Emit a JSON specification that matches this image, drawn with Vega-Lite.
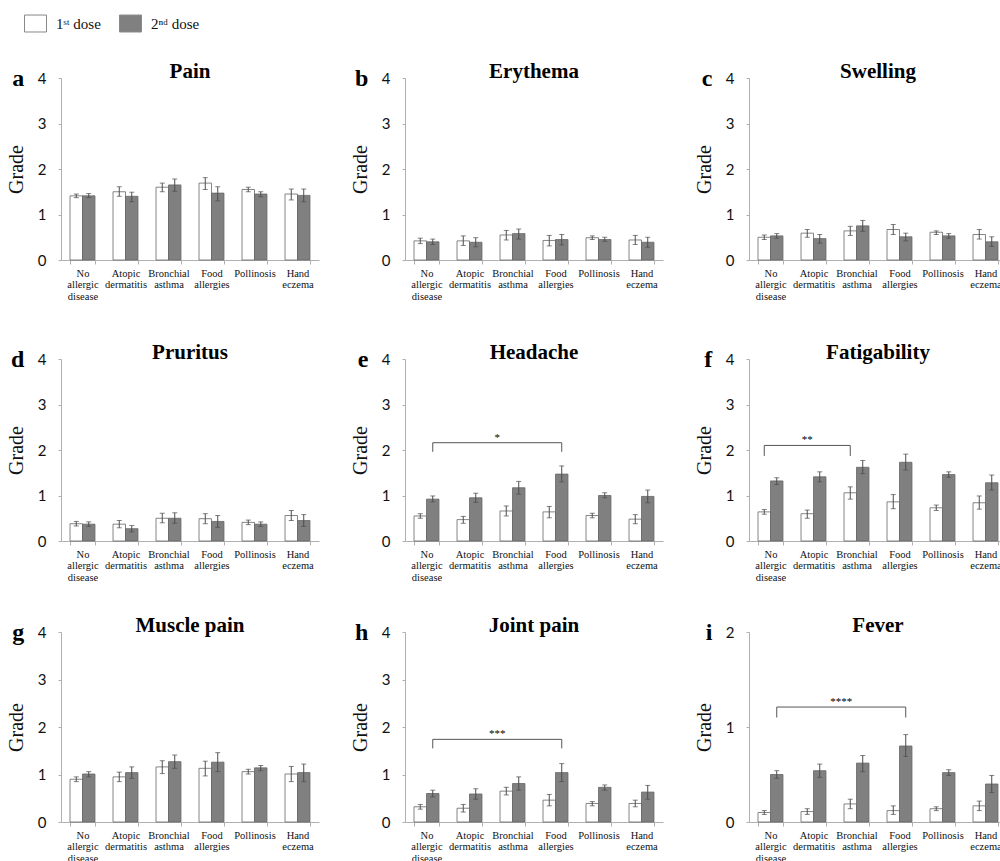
{
"$schema": "https://vega.github.io/schema/vega-lite/v6.json",
"padding": {"top": 12, "left": 6, "right": 4, "bottom": 4},
"autosize": {"type": "pad"},
"background": "white",
"data": {"name": "bars"},
"datasets": {"bars": [
{"s":"Pain","g":"No allergic disease","d":"1ˢᵗ dose","m":1.41,"lo":1.37,"hi":1.45},
{"s":"Pain","g":"No allergic disease","d":"2ⁿᵈ dose","m":1.41,"lo":1.37,"hi":1.46},
{"s":"Pain","g":"Atopic dermatitis","d":"1ˢᵗ dose","m":1.50,"lo":1.40,"hi":1.61},
{"s":"Pain","g":"Atopic dermatitis","d":"2ⁿᵈ dose","m":1.40,"lo":1.28,"hi":1.49},
{"s":"Pain","g":"Bronchial asthma","d":"1ˢᵗ dose","m":1.60,"lo":1.50,"hi":1.69},
{"s":"Pain","g":"Bronchial asthma","d":"2ⁿᵈ dose","m":1.65,"lo":1.51,"hi":1.78},
{"s":"Pain","g":"Food allergies","d":"1ˢᵗ dose","m":1.69,"lo":1.55,"hi":1.81},
{"s":"Pain","g":"Food allergies","d":"2ⁿᵈ dose","m":1.47,"lo":1.30,"hi":1.61},
{"s":"Pain","g":"Pollinosis","d":"1ˢᵗ dose","m":1.55,"lo":1.50,"hi":1.60},
{"s":"Pain","g":"Pollinosis","d":"2ⁿᵈ dose","m":1.45,"lo":1.39,"hi":1.50},
{"s":"Pain","g":"Hand eczema","d":"1ˢᵗ dose","m":1.45,"lo":1.32,"hi":1.56},
{"s":"Pain","g":"Hand eczema","d":"2ⁿᵈ dose","m":1.42,"lo":1.28,"hi":1.56},
{"s":"Erythema","g":"No allergic disease","d":"1ˢᵗ dose","m":0.42,"lo":0.36,"hi":0.48},
{"s":"Erythema","g":"No allergic disease","d":"2ⁿᵈ dose","m":0.40,"lo":0.34,"hi":0.46},
{"s":"Erythema","g":"Atopic dermatitis","d":"1ˢᵗ dose","m":0.42,"lo":0.32,"hi":0.53},
{"s":"Erythema","g":"Atopic dermatitis","d":"2ⁿᵈ dose","m":0.39,"lo":0.29,"hi":0.49},
{"s":"Erythema","g":"Bronchial asthma","d":"1ˢᵗ dose","m":0.55,"lo":0.44,"hi":0.65},
{"s":"Erythema","g":"Bronchial asthma","d":"2ⁿᵈ dose","m":0.58,"lo":0.46,"hi":0.68},
{"s":"Erythema","g":"Food allergies","d":"1ˢᵗ dose","m":0.43,"lo":0.31,"hi":0.54},
{"s":"Erythema","g":"Food allergies","d":"2ⁿᵈ dose","m":0.45,"lo":0.33,"hi":0.56},
{"s":"Erythema","g":"Pollinosis","d":"1ˢᵗ dose","m":0.49,"lo":0.45,"hi":0.53},
{"s":"Erythema","g":"Pollinosis","d":"2ⁿᵈ dose","m":0.45,"lo":0.41,"hi":0.50},
{"s":"Erythema","g":"Hand eczema","d":"1ˢᵗ dose","m":0.44,"lo":0.34,"hi":0.54},
{"s":"Erythema","g":"Hand eczema","d":"2ⁿᵈ dose","m":0.39,"lo":0.28,"hi":0.50},
{"s":"Swelling","g":"No allergic disease","d":"1ˢᵗ dose","m":0.50,"lo":0.45,"hi":0.55},
{"s":"Swelling","g":"No allergic disease","d":"2ⁿᵈ dose","m":0.53,"lo":0.48,"hi":0.58},
{"s":"Swelling","g":"Atopic dermatitis","d":"1ˢᵗ dose","m":0.59,"lo":0.50,"hi":0.67},
{"s":"Swelling","g":"Atopic dermatitis","d":"2ⁿᵈ dose","m":0.47,"lo":0.37,"hi":0.56},
{"s":"Swelling","g":"Bronchial asthma","d":"1ˢᵗ dose","m":0.64,"lo":0.54,"hi":0.74},
{"s":"Swelling","g":"Bronchial asthma","d":"2ⁿᵈ dose","m":0.75,"lo":0.63,"hi":0.87},
{"s":"Swelling","g":"Food allergies","d":"1ˢᵗ dose","m":0.67,"lo":0.56,"hi":0.78},
{"s":"Swelling","g":"Food allergies","d":"2ⁿᵈ dose","m":0.51,"lo":0.42,"hi":0.59},
{"s":"Swelling","g":"Pollinosis","d":"1ˢᵗ dose","m":0.61,"lo":0.56,"hi":0.64},
{"s":"Swelling","g":"Pollinosis","d":"2ⁿᵈ dose","m":0.53,"lo":0.48,"hi":0.58},
{"s":"Swelling","g":"Hand eczema","d":"1ˢᵗ dose","m":0.56,"lo":0.46,"hi":0.67},
{"s":"Swelling","g":"Hand eczema","d":"2ⁿᵈ dose","m":0.40,"lo":0.30,"hi":0.51},
{"s":"Pruritus","g":"No allergic disease","d":"1ˢᵗ dose","m":0.38,"lo":0.33,"hi":0.43},
{"s":"Pruritus","g":"No allergic disease","d":"2ⁿᵈ dose","m":0.37,"lo":0.32,"hi":0.42},
{"s":"Pruritus","g":"Atopic dermatitis","d":"1ˢᵗ dose","m":0.37,"lo":0.29,"hi":0.45},
{"s":"Pruritus","g":"Atopic dermatitis","d":"2ⁿᵈ dose","m":0.27,"lo":0.20,"hi":0.34},
{"s":"Pruritus","g":"Bronchial asthma","d":"1ˢᵗ dose","m":0.50,"lo":0.40,"hi":0.61},
{"s":"Pruritus","g":"Bronchial asthma","d":"2ⁿᵈ dose","m":0.50,"lo":0.39,"hi":0.62},
{"s":"Pruritus","g":"Food allergies","d":"1ˢᵗ dose","m":0.49,"lo":0.38,"hi":0.60},
{"s":"Pruritus","g":"Food allergies","d":"2ⁿᵈ dose","m":0.43,"lo":0.30,"hi":0.56},
{"s":"Pruritus","g":"Pollinosis","d":"1ˢᵗ dose","m":0.41,"lo":0.36,"hi":0.46},
{"s":"Pruritus","g":"Pollinosis","d":"2ⁿᵈ dose","m":0.37,"lo":0.32,"hi":0.42},
{"s":"Pruritus","g":"Hand eczema","d":"1ˢᵗ dose","m":0.56,"lo":0.45,"hi":0.67},
{"s":"Pruritus","g":"Hand eczema","d":"2ⁿᵈ dose","m":0.45,"lo":0.32,"hi":0.58},
{"s":"Headache","g":"No allergic disease","d":"1ˢᵗ dose","m":0.55,"lo":0.50,"hi":0.60},
{"s":"Headache","g":"No allergic disease","d":"2ⁿᵈ dose","m":0.92,"lo":0.86,"hi":0.99},
{"s":"Headache","g":"Atopic dermatitis","d":"1ˢᵗ dose","m":0.47,"lo":0.39,"hi":0.54},
{"s":"Headache","g":"Atopic dermatitis","d":"2ⁿᵈ dose","m":0.95,"lo":0.85,"hi":1.05},
{"s":"Headache","g":"Bronchial asthma","d":"1ˢᵗ dose","m":0.66,"lo":0.55,"hi":0.77},
{"s":"Headache","g":"Bronchial asthma","d":"2ⁿᵈ dose","m":1.17,"lo":1.03,"hi":1.31},
{"s":"Headache","g":"Food allergies","d":"1ˢᵗ dose","m":0.64,"lo":0.51,"hi":0.76},
{"s":"Headache","g":"Food allergies","d":"2ⁿᵈ dose","m":1.47,"lo":1.30,"hi":1.65},
{"s":"Headache","g":"Pollinosis","d":"1ˢᵗ dose","m":0.56,"lo":0.51,"hi":0.61},
{"s":"Headache","g":"Pollinosis","d":"2ⁿᵈ dose","m":1.00,"lo":0.95,"hi":1.06},
{"s":"Headache","g":"Hand eczema","d":"1ˢᵗ dose","m":0.48,"lo":0.38,"hi":0.58},
{"s":"Headache","g":"Hand eczema","d":"2ⁿᵈ dose","m":0.98,"lo":0.84,"hi":1.12},
{"s":"Fatigability","g":"No allergic disease","d":"1ˢᵗ dose","m":0.64,"lo":0.59,"hi":0.69},
{"s":"Fatigability","g":"No allergic disease","d":"2ⁿᵈ dose","m":1.32,"lo":1.24,"hi":1.39},
{"s":"Fatigability","g":"Atopic dermatitis","d":"1ˢᵗ dose","m":0.60,"lo":0.50,"hi":0.68},
{"s":"Fatigability","g":"Atopic dermatitis","d":"2ⁿᵈ dose","m":1.41,"lo":1.30,"hi":1.52},
{"s":"Fatigability","g":"Bronchial asthma","d":"1ˢᵗ dose","m":1.06,"lo":0.92,"hi":1.19},
{"s":"Fatigability","g":"Bronchial asthma","d":"2ⁿᵈ dose","m":1.62,"lo":1.48,"hi":1.77},
{"s":"Fatigability","g":"Food allergies","d":"1ˢᵗ dose","m":0.86,"lo":0.71,"hi":1.02},
{"s":"Fatigability","g":"Food allergies","d":"2ⁿᵈ dose","m":1.73,"lo":1.56,"hi":1.91},
{"s":"Fatigability","g":"Pollinosis","d":"1ˢᵗ dose","m":0.73,"lo":0.67,"hi":0.79},
{"s":"Fatigability","g":"Pollinosis","d":"2ⁿᵈ dose","m":1.46,"lo":1.40,"hi":1.52},
{"s":"Fatigability","g":"Hand eczema","d":"1ˢᵗ dose","m":0.84,"lo":0.70,"hi":0.99},
{"s":"Fatigability","g":"Hand eczema","d":"2ⁿᵈ dose","m":1.28,"lo":1.12,"hi":1.45},
{"s":"Muscle pain","g":"No allergic disease","d":"1ˢᵗ dose","m":0.90,"lo":0.85,"hi":0.95},
{"s":"Muscle pain","g":"No allergic disease","d":"2ⁿᵈ dose","m":1.01,"lo":0.95,"hi":1.06},
{"s":"Muscle pain","g":"Atopic dermatitis","d":"1ˢᵗ dose","m":0.95,"lo":0.85,"hi":1.05},
{"s":"Muscle pain","g":"Atopic dermatitis","d":"2ⁿᵈ dose","m":1.04,"lo":0.92,"hi":1.16},
{"s":"Muscle pain","g":"Bronchial asthma","d":"1ˢᵗ dose","m":1.16,"lo":1.02,"hi":1.29},
{"s":"Muscle pain","g":"Bronchial asthma","d":"2ⁿᵈ dose","m":1.27,"lo":1.13,"hi":1.41},
{"s":"Muscle pain","g":"Food allergies","d":"1ˢᵗ dose","m":1.13,"lo":0.97,"hi":1.28},
{"s":"Muscle pain","g":"Food allergies","d":"2ⁿᵈ dose","m":1.26,"lo":1.06,"hi":1.46},
{"s":"Muscle pain","g":"Pollinosis","d":"1ˢᵗ dose","m":1.06,"lo":1.01,"hi":1.11},
{"s":"Muscle pain","g":"Pollinosis","d":"2ⁿᵈ dose","m":1.14,"lo":1.08,"hi":1.19},
{"s":"Muscle pain","g":"Hand eczema","d":"1ˢᵗ dose","m":1.01,"lo":0.85,"hi":1.17},
{"s":"Muscle pain","g":"Hand eczema","d":"2ⁿᵈ dose","m":1.04,"lo":0.85,"hi":1.22},
{"s":"Joint pain","g":"No allergic disease","d":"1ˢᵗ dose","m":0.32,"lo":0.27,"hi":0.37},
{"s":"Joint pain","g":"No allergic disease","d":"2ⁿᵈ dose","m":0.60,"lo":0.53,"hi":0.67},
{"s":"Joint pain","g":"Atopic dermatitis","d":"1ˢᵗ dose","m":0.29,"lo":0.21,"hi":0.37},
{"s":"Joint pain","g":"Atopic dermatitis","d":"2ⁿᵈ dose","m":0.59,"lo":0.48,"hi":0.70},
{"s":"Joint pain","g":"Bronchial asthma","d":"1ˢᵗ dose","m":0.65,"lo":0.57,"hi":0.73},
{"s":"Joint pain","g":"Bronchial asthma","d":"2ⁿᵈ dose","m":0.81,"lo":0.67,"hi":0.95},
{"s":"Joint pain","g":"Food allergies","d":"1ˢᵗ dose","m":0.46,"lo":0.34,"hi":0.58},
{"s":"Joint pain","g":"Food allergies","d":"2ⁿᵈ dose","m":1.04,"lo":0.85,"hi":1.23},
{"s":"Joint pain","g":"Pollinosis","d":"1ˢᵗ dose","m":0.39,"lo":0.34,"hi":0.43},
{"s":"Joint pain","g":"Pollinosis","d":"2ⁿᵈ dose","m":0.73,"lo":0.67,"hi":0.78},
{"s":"Joint pain","g":"Hand eczema","d":"1ˢᵗ dose","m":0.39,"lo":0.32,"hi":0.46},
{"s":"Joint pain","g":"Hand eczema","d":"2ⁿᵈ dose","m":0.63,"lo":0.48,"hi":0.77},
{"s":"Fever","g":"No allergic disease","d":"1ˢᵗ dose","m":0.10,"lo":0.08,"hi":0.12},
{"s":"Fever","g":"No allergic disease","d":"2ⁿᵈ dose","m":0.50,"lo":0.46,"hi":0.54},
{"s":"Fever","g":"Atopic dermatitis","d":"1ˢᵗ dose","m":0.11,"lo":0.08,"hi":0.14},
{"s":"Fever","g":"Atopic dermatitis","d":"2ⁿᵈ dose","m":0.54,"lo":0.47,"hi":0.61},
{"s":"Fever","g":"Bronchial asthma","d":"1ˢᵗ dose","m":0.19,"lo":0.14,"hi":0.24},
{"s":"Fever","g":"Bronchial asthma","d":"2ⁿᵈ dose","m":0.62,"lo":0.53,"hi":0.70},
{"s":"Fever","g":"Food allergies","d":"1ˢᵗ dose","m":0.12,"lo":0.08,"hi":0.17},
{"s":"Fever","g":"Food allergies","d":"2ⁿᵈ dose","m":0.80,"lo":0.69,"hi":0.92},
{"s":"Fever","g":"Pollinosis","d":"1ˢᵗ dose","m":0.14,"lo":0.12,"hi":0.16},
{"s":"Fever","g":"Pollinosis","d":"2ⁿᵈ dose","m":0.52,"lo":0.49,"hi":0.55},
{"s":"Fever","g":"Hand eczema","d":"1ˢᵗ dose","m":0.17,"lo":0.12,"hi":0.22},
{"s":"Fever","g":"Hand eczema","d":"2ⁿᵈ dose","m":0.40,"lo":0.31,"hi":0.49}
]},
"spacing": 40,
"vconcat": [
{"hconcat": [
 {"title": {"text": "a", "orient": "left", "anchor": "end", "angle": 0, "align": "left", "baseline": "top", "offset": 0, "dx": 18, "dy": 6, "fontSize": 24},
  "vconcat": [{"title": "Pain", "width": 258, "height": 182, "layer": [
   {"transform": [{"filter": "datum.s === 'Pain'"}],
    "encoding": {"x": {"field": "g", "type": "nominal", "title": null, "scale": {"domain": ["No allergic disease","Atopic dermatitis","Bronchial asthma","Food allergies","Pollinosis","Hand eczema"], "paddingInner": 0.42, "paddingOuter": 0.21}, "axis": {"labelExpr": "datum.value ? split(datum.value, ' ') : ''"}},
                 "xOffset": {"field": "d", "type": "nominal", "scale": {"domain": ["1ˢᵗ dose","2ⁿᵈ dose"], "paddingInner": 0}}},
    "layer": [
     {"mark": {"type": "bar", "stroke": "#666666", "strokeWidth": 0.8}, "encoding": {"y": {"field": "m", "type": "quantitative", "title": "Grade", "scale": {"domain": [0, 4]}, "axis": {"values": [0,1,2,3,4], "format": "d"}}, "color": {"field": "d", "type": "nominal", "title": null, "scale": {"domain": ["1ˢᵗ dose","2ⁿᵈ dose"], "range": ["#ffffff","#808080"]}}}},
     {"mark": {"type": "rule", "color": "#4d4d4d"}, "encoding": {"y": {"field": "lo", "type": "quantitative", "title": "Grade"}, "y2": {"field": "hi"}}},
     {"mark": {"type": "tick", "orient": "horizontal", "color": "#4d4d4d", "size": 5, "thickness": 1}, "encoding": {"y": {"field": "hi", "type": "quantitative", "title": "Grade"}}},
     {"mark": {"type": "tick", "orient": "horizontal", "color": "#4d4d4d", "size": 5, "thickness": 1}, "encoding": {"y": {"field": "lo", "type": "quantitative", "title": "Grade"}}}
    ]}
  ]}]},
 {"title": {"text": "b", "orient": "left", "anchor": "end", "angle": 0, "align": "left", "baseline": "top", "offset": 0, "dx": 18, "dy": 6, "fontSize": 24},
  "vconcat": [{"title": "Erythema", "width": 258, "height": 182, "layer": [
   {"transform": [{"filter": "datum.s === 'Erythema'"}],
    "encoding": {"x": {"field": "g", "type": "nominal", "title": null, "scale": {"domain": ["No allergic disease","Atopic dermatitis","Bronchial asthma","Food allergies","Pollinosis","Hand eczema"], "paddingInner": 0.42, "paddingOuter": 0.21}, "axis": {"labelExpr": "datum.value ? split(datum.value, ' ') : ''"}},
                 "xOffset": {"field": "d", "type": "nominal", "scale": {"domain": ["1ˢᵗ dose","2ⁿᵈ dose"], "paddingInner": 0}}},
    "layer": [
     {"mark": {"type": "bar", "stroke": "#666666", "strokeWidth": 0.8}, "encoding": {"y": {"field": "m", "type": "quantitative", "title": "Grade", "scale": {"domain": [0, 4]}, "axis": {"values": [0,1,2,3,4], "format": "d"}}, "color": {"field": "d", "type": "nominal", "title": null, "scale": {"domain": ["1ˢᵗ dose","2ⁿᵈ dose"], "range": ["#ffffff","#808080"]}}}},
     {"mark": {"type": "rule", "color": "#4d4d4d"}, "encoding": {"y": {"field": "lo", "type": "quantitative", "title": "Grade"}, "y2": {"field": "hi"}}},
     {"mark": {"type": "tick", "orient": "horizontal", "color": "#4d4d4d", "size": 5, "thickness": 1}, "encoding": {"y": {"field": "hi", "type": "quantitative", "title": "Grade"}}},
     {"mark": {"type": "tick", "orient": "horizontal", "color": "#4d4d4d", "size": 5, "thickness": 1}, "encoding": {"y": {"field": "lo", "type": "quantitative", "title": "Grade"}}}
    ]}
  ]}]},
 {"title": {"text": "c", "orient": "left", "anchor": "end", "angle": 0, "align": "left", "baseline": "top", "offset": 0, "dx": 18, "dy": 6, "fontSize": 24},
  "vconcat": [{"title": "Swelling", "width": 258, "height": 182, "layer": [
   {"transform": [{"filter": "datum.s === 'Swelling'"}],
    "encoding": {"x": {"field": "g", "type": "nominal", "title": null, "scale": {"domain": ["No allergic disease","Atopic dermatitis","Bronchial asthma","Food allergies","Pollinosis","Hand eczema"], "paddingInner": 0.42, "paddingOuter": 0.21}, "axis": {"labelExpr": "datum.value ? split(datum.value, ' ') : ''"}},
                 "xOffset": {"field": "d", "type": "nominal", "scale": {"domain": ["1ˢᵗ dose","2ⁿᵈ dose"], "paddingInner": 0}}},
    "layer": [
     {"mark": {"type": "bar", "stroke": "#666666", "strokeWidth": 0.8}, "encoding": {"y": {"field": "m", "type": "quantitative", "title": "Grade", "scale": {"domain": [0, 4]}, "axis": {"values": [0,1,2,3,4], "format": "d"}}, "color": {"field": "d", "type": "nominal", "title": null, "scale": {"domain": ["1ˢᵗ dose","2ⁿᵈ dose"], "range": ["#ffffff","#808080"]}}}},
     {"mark": {"type": "rule", "color": "#4d4d4d"}, "encoding": {"y": {"field": "lo", "type": "quantitative", "title": "Grade"}, "y2": {"field": "hi"}}},
     {"mark": {"type": "tick", "orient": "horizontal", "color": "#4d4d4d", "size": 5, "thickness": 1}, "encoding": {"y": {"field": "hi", "type": "quantitative", "title": "Grade"}}},
     {"mark": {"type": "tick", "orient": "horizontal", "color": "#4d4d4d", "size": 5, "thickness": 1}, "encoding": {"y": {"field": "lo", "type": "quantitative", "title": "Grade"}}}
    ]}
  ]}]}
 ], "spacing": 31},
{"spacing": 32, "vconcat": [
{"hconcat": [
 {"title": {"text": "d", "orient": "left", "anchor": "end", "angle": 0, "align": "left", "baseline": "top", "offset": 0, "dx": 18, "dy": 6, "fontSize": 24},
  "vconcat": [{"title": "Pruritus", "width": 258, "height": 182, "layer": [
   {"transform": [{"filter": "datum.s === 'Pruritus'"}],
    "encoding": {"x": {"field": "g", "type": "nominal", "title": null, "scale": {"domain": ["No allergic disease","Atopic dermatitis","Bronchial asthma","Food allergies","Pollinosis","Hand eczema"], "paddingInner": 0.42, "paddingOuter": 0.21}, "axis": {"labelExpr": "datum.value ? split(datum.value, ' ') : ''"}},
                 "xOffset": {"field": "d", "type": "nominal", "scale": {"domain": ["1ˢᵗ dose","2ⁿᵈ dose"], "paddingInner": 0}}},
    "layer": [
     {"mark": {"type": "bar", "stroke": "#666666", "strokeWidth": 0.8}, "encoding": {"y": {"field": "m", "type": "quantitative", "title": "Grade", "scale": {"domain": [0, 4]}, "axis": {"values": [0,1,2,3,4], "format": "d"}}, "color": {"field": "d", "type": "nominal", "title": null, "scale": {"domain": ["1ˢᵗ dose","2ⁿᵈ dose"], "range": ["#ffffff","#808080"]}}}},
     {"mark": {"type": "rule", "color": "#4d4d4d"}, "encoding": {"y": {"field": "lo", "type": "quantitative", "title": "Grade"}, "y2": {"field": "hi"}}},
     {"mark": {"type": "tick", "orient": "horizontal", "color": "#4d4d4d", "size": 5, "thickness": 1}, "encoding": {"y": {"field": "hi", "type": "quantitative", "title": "Grade"}}},
     {"mark": {"type": "tick", "orient": "horizontal", "color": "#4d4d4d", "size": 5, "thickness": 1}, "encoding": {"y": {"field": "lo", "type": "quantitative", "title": "Grade"}}}
    ]}
  ]}]},
 {"title": {"text": "e", "orient": "left", "anchor": "end", "angle": 0, "align": "left", "baseline": "top", "offset": 0, "dx": 18, "dy": 6, "fontSize": 24},
  "vconcat": [{"title": "Headache", "width": 258, "height": 182, "layer": [
   {"transform": [{"filter": "datum.s === 'Headache'"}],
    "encoding": {"x": {"field": "g", "type": "nominal", "title": null, "scale": {"domain": ["No allergic disease","Atopic dermatitis","Bronchial asthma","Food allergies","Pollinosis","Hand eczema"], "paddingInner": 0.42, "paddingOuter": 0.21}, "axis": {"labelExpr": "datum.value ? split(datum.value, ' ') : ''"}},
                 "xOffset": {"field": "d", "type": "nominal", "scale": {"domain": ["1ˢᵗ dose","2ⁿᵈ dose"], "paddingInner": 0}}},
    "layer": [
     {"mark": {"type": "bar", "stroke": "#666666", "strokeWidth": 0.8}, "encoding": {"y": {"field": "m", "type": "quantitative", "title": "Grade", "scale": {"domain": [0, 4]}, "axis": {"values": [0,1,2,3,4], "format": "d"}}, "color": {"field": "d", "type": "nominal", "title": null, "scale": {"domain": ["1ˢᵗ dose","2ⁿᵈ dose"], "range": ["#ffffff","#808080"]}}}},
     {"mark": {"type": "rule", "color": "#4d4d4d"}, "encoding": {"y": {"field": "lo", "type": "quantitative", "title": "Grade"}, "y2": {"field": "hi"}}},
     {"mark": {"type": "tick", "orient": "horizontal", "color": "#4d4d4d", "size": 5, "thickness": 1}, "encoding": {"y": {"field": "hi", "type": "quantitative", "title": "Grade"}}},
     {"mark": {"type": "tick", "orient": "horizontal", "color": "#4d4d4d", "size": 5, "thickness": 1}, "encoding": {"y": {"field": "lo", "type": "quantitative", "title": "Grade"}}}
    ]},
   {"data": {"values": [{"g":"No allergic disease","y":1.96,"o":1},{"g":"No allergic disease","y":2.16,"o":2},{"g":"Food allergies","y":2.16,"o":3},{"g":"Food allergies","y":1.96,"o":4}]},
    "mark": {"type": "line", "color": "#555555", "strokeWidth": 1},
    "encoding": {"x": {"field": "g", "type": "nominal", "title": null, "bandPosition": 0.75}, "y": {"field": "y", "type": "quantitative", "title": "Grade"}, "order": {"field": "o", "type": "quantitative"}}},
   {"data": {"values": [{"g":"Atopic dermatitis","y":2.16,"t":"*"}]},
    "mark": {"type": "text", "font": "Liberation Serif", "fontSize": 11, "baseline": "bottom", "color": "#000000"},
    "encoding": {"x": {"field": "g", "type": "nominal", "title": null, "bandPosition": 1.61}, "y": {"field": "y", "type": "quantitative", "title": "Grade"}, "text": {"field": "t"}}}
  ]}]},
 {"title": {"text": "f", "orient": "left", "anchor": "end", "angle": 0, "align": "left", "baseline": "top", "offset": 0, "dx": 18, "dy": 6, "fontSize": 24},
  "vconcat": [{"title": "Fatigability", "width": 258, "height": 182, "layer": [
   {"transform": [{"filter": "datum.s === 'Fatigability'"}],
    "encoding": {"x": {"field": "g", "type": "nominal", "title": null, "scale": {"domain": ["No allergic disease","Atopic dermatitis","Bronchial asthma","Food allergies","Pollinosis","Hand eczema"], "paddingInner": 0.42, "paddingOuter": 0.21}, "axis": {"labelExpr": "datum.value ? split(datum.value, ' ') : ''"}},
                 "xOffset": {"field": "d", "type": "nominal", "scale": {"domain": ["1ˢᵗ dose","2ⁿᵈ dose"], "paddingInner": 0}}},
    "layer": [
     {"mark": {"type": "bar", "stroke": "#666666", "strokeWidth": 0.8}, "encoding": {"y": {"field": "m", "type": "quantitative", "title": "Grade", "scale": {"domain": [0, 4]}, "axis": {"values": [0,1,2,3,4], "format": "d"}}, "color": {"field": "d", "type": "nominal", "title": null, "scale": {"domain": ["1ˢᵗ dose","2ⁿᵈ dose"], "range": ["#ffffff","#808080"]}}}},
     {"mark": {"type": "rule", "color": "#4d4d4d"}, "encoding": {"y": {"field": "lo", "type": "quantitative", "title": "Grade"}, "y2": {"field": "hi"}}},
     {"mark": {"type": "tick", "orient": "horizontal", "color": "#4d4d4d", "size": 5, "thickness": 1}, "encoding": {"y": {"field": "hi", "type": "quantitative", "title": "Grade"}}},
     {"mark": {"type": "tick", "orient": "horizontal", "color": "#4d4d4d", "size": 5, "thickness": 1}, "encoding": {"y": {"field": "lo", "type": "quantitative", "title": "Grade"}}}
    ]},
   {"data": {"values": [{"g":"No allergic disease","y":1.87,"o":1},{"g":"No allergic disease","y":2.10,"o":2},{"g":"Bronchial asthma","y":2.10,"o":3},{"g":"Bronchial asthma","y":1.87,"o":4}]},
    "mark": {"type": "line", "color": "#555555", "strokeWidth": 1},
    "encoding": {"x": {"field": "g", "type": "nominal", "title": null, "bandPosition": 0.25}, "y": {"field": "y", "type": "quantitative", "title": "Grade"}, "order": {"field": "o", "type": "quantitative"}}},
   {"data": {"values": [{"g":"Atopic dermatitis","y":2.10,"t":"**"}]},
    "mark": {"type": "text", "font": "Liberation Serif", "fontSize": 11, "baseline": "bottom", "color": "#000000"},
    "encoding": {"x": {"field": "g", "type": "nominal", "title": null, "bandPosition": 0.25}, "y": {"field": "y", "type": "quantitative", "title": "Grade"}, "text": {"field": "t"}}}
  ]}]}
 ], "spacing": 31},
{"hconcat": [
 {"title": {"text": "g", "orient": "left", "anchor": "end", "angle": 0, "align": "left", "baseline": "top", "offset": 0, "dx": 18, "dy": 6, "fontSize": 24},
  "vconcat": [{"title": "Muscle pain", "width": 258, "height": 190, "layer": [
   {"transform": [{"filter": "datum.s === 'Muscle pain'"}],
    "encoding": {"x": {"field": "g", "type": "nominal", "title": null, "scale": {"domain": ["No allergic disease","Atopic dermatitis","Bronchial asthma","Food allergies","Pollinosis","Hand eczema"], "paddingInner": 0.42, "paddingOuter": 0.21}, "axis": {"labelExpr": "datum.value ? split(datum.value, ' ') : ''"}},
                 "xOffset": {"field": "d", "type": "nominal", "scale": {"domain": ["1ˢᵗ dose","2ⁿᵈ dose"], "paddingInner": 0}}},
    "layer": [
     {"mark": {"type": "bar", "stroke": "#666666", "strokeWidth": 0.8}, "encoding": {"y": {"field": "m", "type": "quantitative", "title": "Grade", "scale": {"domain": [0, 4]}, "axis": {"values": [0,1,2,3,4], "format": "d"}}, "color": {"field": "d", "type": "nominal", "title": null, "scale": {"domain": ["1ˢᵗ dose","2ⁿᵈ dose"], "range": ["#ffffff","#808080"]}}}},
     {"mark": {"type": "rule", "color": "#4d4d4d"}, "encoding": {"y": {"field": "lo", "type": "quantitative", "title": "Grade"}, "y2": {"field": "hi"}}},
     {"mark": {"type": "tick", "orient": "horizontal", "color": "#4d4d4d", "size": 5, "thickness": 1}, "encoding": {"y": {"field": "hi", "type": "quantitative", "title": "Grade"}}},
     {"mark": {"type": "tick", "orient": "horizontal", "color": "#4d4d4d", "size": 5, "thickness": 1}, "encoding": {"y": {"field": "lo", "type": "quantitative", "title": "Grade"}}}
    ]}
  ]}]},
 {"title": {"text": "h", "orient": "left", "anchor": "end", "angle": 0, "align": "left", "baseline": "top", "offset": 0, "dx": 18, "dy": 6, "fontSize": 24},
  "vconcat": [{"title": "Joint pain", "width": 258, "height": 190, "layer": [
   {"transform": [{"filter": "datum.s === 'Joint pain'"}],
    "encoding": {"x": {"field": "g", "type": "nominal", "title": null, "scale": {"domain": ["No allergic disease","Atopic dermatitis","Bronchial asthma","Food allergies","Pollinosis","Hand eczema"], "paddingInner": 0.42, "paddingOuter": 0.21}, "axis": {"labelExpr": "datum.value ? split(datum.value, ' ') : ''"}},
                 "xOffset": {"field": "d", "type": "nominal", "scale": {"domain": ["1ˢᵗ dose","2ⁿᵈ dose"], "paddingInner": 0}}},
    "layer": [
     {"mark": {"type": "bar", "stroke": "#666666", "strokeWidth": 0.8}, "encoding": {"y": {"field": "m", "type": "quantitative", "title": "Grade", "scale": {"domain": [0, 4]}, "axis": {"values": [0,1,2,3,4], "format": "d"}}, "color": {"field": "d", "type": "nominal", "title": null, "scale": {"domain": ["1ˢᵗ dose","2ⁿᵈ dose"], "range": ["#ffffff","#808080"]}}}},
     {"mark": {"type": "rule", "color": "#4d4d4d"}, "encoding": {"y": {"field": "lo", "type": "quantitative", "title": "Grade"}, "y2": {"field": "hi"}}},
     {"mark": {"type": "tick", "orient": "horizontal", "color": "#4d4d4d", "size": 5, "thickness": 1}, "encoding": {"y": {"field": "hi", "type": "quantitative", "title": "Grade"}}},
     {"mark": {"type": "tick", "orient": "horizontal", "color": "#4d4d4d", "size": 5, "thickness": 1}, "encoding": {"y": {"field": "lo", "type": "quantitative", "title": "Grade"}}}
    ]},
   {"data": {"values": [{"g":"No allergic disease","y":1.55,"o":1},{"g":"No allergic disease","y":1.74,"o":2},{"g":"Food allergies","y":1.74,"o":3},{"g":"Food allergies","y":1.55,"o":4}]},
    "mark": {"type": "line", "color": "#555555", "strokeWidth": 1},
    "encoding": {"x": {"field": "g", "type": "nominal", "title": null, "bandPosition": 0.75}, "y": {"field": "y", "type": "quantitative", "title": "Grade"}, "order": {"field": "o", "type": "quantitative"}}},
   {"data": {"values": [{"g":"Atopic dermatitis","y":1.74,"t":"***"}]},
    "mark": {"type": "text", "font": "Liberation Serif", "fontSize": 11, "baseline": "bottom", "color": "#000000"},
    "encoding": {"x": {"field": "g", "type": "nominal", "title": null, "bandPosition": 1.61}, "y": {"field": "y", "type": "quantitative", "title": "Grade"}, "text": {"field": "t"}}}
  ]}]},
 {"title": {"text": "i", "orient": "left", "anchor": "end", "angle": 0, "align": "left", "baseline": "top", "offset": 0, "dx": 18, "dy": 6, "fontSize": 24},
  "vconcat": [{"title": "Fever", "width": 258, "height": 190, "layer": [
   {"transform": [{"filter": "datum.s === 'Fever'"}],
    "encoding": {"x": {"field": "g", "type": "nominal", "title": null, "scale": {"domain": ["No allergic disease","Atopic dermatitis","Bronchial asthma","Food allergies","Pollinosis","Hand eczema"], "paddingInner": 0.42, "paddingOuter": 0.21}, "axis": {"labelExpr": "datum.value ? split(datum.value, ' ') : ''"}},
                 "xOffset": {"field": "d", "type": "nominal", "scale": {"domain": ["1ˢᵗ dose","2ⁿᵈ dose"], "paddingInner": 0}}},
    "layer": [
     {"mark": {"type": "bar", "stroke": "#666666", "strokeWidth": 0.8}, "encoding": {"y": {"field": "m", "type": "quantitative", "title": "Grade", "scale": {"domain": [0, 2]}, "axis": {"values": [0,1,2], "labelExpr": "'' + datum.value"}}, "color": {"field": "d", "type": "nominal", "title": null, "scale": {"domain": ["1ˢᵗ dose","2ⁿᵈ dose"], "range": ["#ffffff","#808080"]}}}},
     {"mark": {"type": "rule", "color": "#4d4d4d"}, "encoding": {"y": {"field": "lo", "type": "quantitative", "title": "Grade", "scale": {"domain": [0, 2]}, "axis": {"values": [0,1,2], "labelExpr": "'' + datum.value"}}, "y2": {"field": "hi"}}},
     {"mark": {"type": "tick", "orient": "horizontal", "color": "#4d4d4d", "size": 5, "thickness": 1}, "encoding": {"y": {"field": "hi", "type": "quantitative", "title": "Grade", "scale": {"domain": [0, 2]}, "axis": {"values": [0,1,2], "labelExpr": "'' + datum.value"}}}},
     {"mark": {"type": "tick", "orient": "horizontal", "color": "#4d4d4d", "size": 5, "thickness": 1}, "encoding": {"y": {"field": "lo", "type": "quantitative", "title": "Grade", "scale": {"domain": [0, 2]}, "axis": {"values": [0,1,2], "labelExpr": "'' + datum.value"}}}}
    ]},
   {"data": {"values": [{"g":"No allergic disease","y":1.10,"o":1},{"g":"No allergic disease","y":1.21,"o":2},{"g":"Food allergies","y":1.21,"o":3},{"g":"Food allergies","y":1.10,"o":4}]},
    "mark": {"type": "line", "color": "#555555", "strokeWidth": 1},
    "encoding": {"x": {"field": "g", "type": "nominal", "title": null, "bandPosition": 0.75}, "y": {"field": "y", "type": "quantitative", "title": "Grade", "scale": {"domain": [0, 2]}, "axis": {"values": [0,1,2], "labelExpr": "'' + datum.value"}}, "order": {"field": "o", "type": "quantitative"}}},
   {"data": {"values": [{"g":"Atopic dermatitis","y":1.21,"t":"****"}]},
    "mark": {"type": "text", "font": "Liberation Serif", "fontSize": 11, "baseline": "bottom", "color": "#000000"},
    "encoding": {"x": {"field": "g", "type": "nominal", "title": null, "bandPosition": 1.61}, "y": {"field": "y", "type": "quantitative", "title": "Grade", "scale": {"domain": [0, 2]}, "axis": {"values": [0,1,2], "labelExpr": "'' + datum.value"}}, "text": {"field": "t"}}}
  ]}]}
 ], "spacing": 31}
]}
],
"config": {
 "view": {"stroke": null},
 "axis": {"grid": false, "domainColor": "#b0b0b0", "tickColor": "#b0b0b0", "labelColor": "#111111"},
 "axisX": {"labelFont": "Liberation Serif", "labelFontSize": 10.5, "labelAngle": 0, "labelLineHeight": 11.5, "tickBand": "extent", "tickSize": 4, "labelPadding": 4, "labelBaseline": "top"},
 "axisY": {"labelFont": "Lato", "labelFontSize": 15, "tickSize": 3, "labelPadding": 12, "labelOverlap": false, "titleFont": "Liberation Serif", "titleFontSize": 20, "titleFontWeight": "normal", "titlePadding": 11, "titleColor": "#111111"},
 "title": {"font": "Liberation Serif", "fontSize": 21, "fontWeight": "bold", "color": "#000000", "offset": -11},
 "legend": {"orient": "none", "legendX": -37, "legendY": -66, "direction": "horizontal", "symbolType": "M-1,-0.77H1V0.77H-1Z", "symbolSize": 484, "symbolStrokeColor": "#888888", "symbolStrokeWidth": 1, "labelFont": "Liberation Serif", "labelFontSize": 15, "labelColor": "#111111", "labelOffset": 9, "columnPadding": 16}
}
}
